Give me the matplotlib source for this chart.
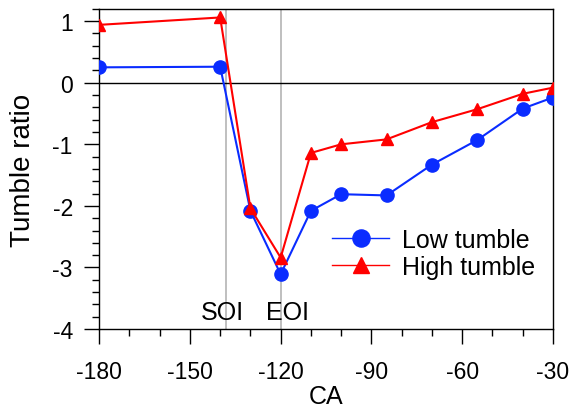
import matplotlib
matplotlib.use("Agg")
import matplotlib.pyplot as plt
from matplotlib.ticker import MultipleLocator

plt.rcParams['font.family'] = ['Liberation Sans', 'DejaVu Sans']
plt.rcParams['axes.unicode_minus'] = False

ca = [-180, -140, -130, -120, -110, -100, -85, -70, -55, -40, -30]
low_tumble = [0.25, 0.26, -2.08, -3.11, -2.08, -1.81, -1.83, -1.33, -0.93, -0.42, -0.24]
high_tumble = [0.94, 1.06, -2.04, -2.84, -1.14, -1.0, -0.92, -0.64, -0.43, -0.18, -0.08]
soi_x = -138
eoi_x = -120

fig = plt.figure(figsize=(5.7, 4.1), dpi=100)
ax = fig.add_axes([0.174, 0.195, 0.796, 0.781])

ax.axvline(soi_x, color='#b4b4b4', lw=1.2, zorder=1)
ax.axvline(eoi_x, color='#b4b4b4', lw=1.2, zorder=1)
ax.axhline(0, color='black', lw=1.0, zorder=1)

ax.plot(ca, low_tumble, color='#0a2cff', marker='o', markersize=9.5, lw=1.5,
        label='Low tumble', zorder=3)
ax.plot(ca, high_tumble, color='#ff0000', marker='^', markersize=9, lw=1.5,
        label='High tumble', zorder=4)

ax.text(-139.4, -3.72, 'SOI', ha='center', va='center', fontsize=18)
ax.text(-117.9, -3.72, 'EOI', ha='center', va='center', fontsize=18)

ax.set_xlim(-180, -30)
ax.set_ylim(-4, 1.2)
ax.xaxis.set_major_locator(MultipleLocator(30))
ax.xaxis.set_minor_locator(MultipleLocator(10))
ax.yaxis.set_major_locator(MultipleLocator(1))
ax.yaxis.set_minor_locator(MultipleLocator(0.2))
ax.tick_params(which='major', direction='out', length=11, width=1.0,
               labelsize=16.5)
ax.tick_params(axis='x', which='major', pad=11)
ax.tick_params(axis='y', which='major', pad=8)
ax.tick_params(which='minor', direction='out', length=5, width=1.0)
for s in ax.spines.values():
    s.set_linewidth(1.0)

ax.set_xlabel('CA', fontsize=18)
ax.set_ylabel('Tumble ratio', fontsize=20)
ax.xaxis.set_label_coords(0.5, -0.172)
ax.yaxis.set_label_coords(-0.14, 0.5)

leg = ax.legend(loc='center left', bbox_to_anchor=(0.513, 0.236), frameon=False,
                fontsize=18, handlelength=2.3, handletextpad=0.5, labelspacing=0.1,
                borderpad=0, borderaxespad=0, markerscale=1.3)
for ln in leg.get_lines():
    ln.set_linewidth(1.0)

fig.savefig('out.png', dpi=100)
